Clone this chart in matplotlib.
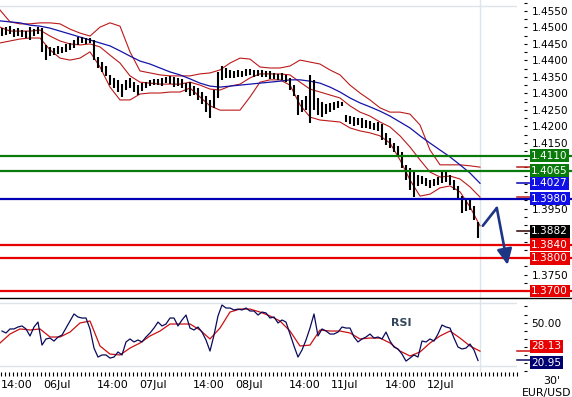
import numpy as np
import matplotlib
matplotlib.use('Agg')
import matplotlib.pyplot as plt
from matplotlib.lines import Line2D
from matplotlib.ticker import MultipleLocator, FixedLocator, NullFormatter, FormatStrFormatter, FuncFormatter

# hourly EUR/USD bars (time in hours from 05Jul 09:45)
bar_hi = [
    1.4498, 1.4501, 1.4504, 1.4495, 1.4498, 1.4492, 1.4489, 1.4501, 1.4495, 1.4501,
    1.4498, 1.4447, 1.4441, 1.4438, 1.4444, 1.4441, 1.4450, 1.4453, 1.4462, 1.4471,
    1.4471, 1.4468, 1.4468, 1.4462, 1.4410, 1.4395, 1.4383, 1.4356, 1.4347, 1.4341,
    1.4328, 1.4341, 1.4347, 1.4334, 1.4325, 1.4331, 1.4334, 1.4341, 1.4344, 1.4344,
    1.4347, 1.4350, 1.4353, 1.4350, 1.4347, 1.4344, 1.4331, 1.4334, 1.4322, 1.4316,
    1.4304, 1.4292, 1.4280, 1.4310, 1.4365, 1.4383, 1.4377, 1.4371, 1.4368, 1.4371,
    1.4368, 1.4374, 1.4374, 1.4371, 1.4371, 1.4371, 1.4368, 1.4368, 1.4362, 1.4359,
    1.4362, 1.4356, 1.4347, 1.4325, 1.4295, 1.4280, 1.4292, 1.4356, 1.4341, 1.4286,
    1.4274, 1.4268, 1.4271, 1.4274, 1.4277, 1.4274, 1.4234, 1.4231, 1.4228, 1.4225,
    1.4225, 1.4219, 1.4216, 1.4210, 1.4213, 1.4207, 1.4180, 1.4164, 1.4149, 1.4140,
    1.4122, 1.4083, 1.4073, 1.4067, 1.4052, 1.4049, 1.4043, 1.4037, 1.4040, 1.4046,
    1.4061, 1.4061, 1.4052, 1.4037, 1.4019, 1.3988, 1.3979, 1.3982, 1.3958, 1.3910]
bar_lo = [
    1.4474, 1.4477, 1.4480, 1.4471, 1.4474, 1.4471, 1.4468, 1.4462, 1.4474, 1.4480,
    1.4426, 1.4401, 1.4413, 1.4416, 1.4419, 1.4422, 1.4426, 1.4432, 1.4438, 1.4447,
    1.4453, 1.4450, 1.4453, 1.4401, 1.4377, 1.4365, 1.4353, 1.4325, 1.4316, 1.4304,
    1.4289, 1.4310, 1.4316, 1.4304, 1.4295, 1.4307, 1.4316, 1.4322, 1.4325, 1.4325,
    1.4322, 1.4331, 1.4328, 1.4319, 1.4322, 1.4316, 1.4304, 1.4292, 1.4295, 1.4280,
    1.4268, 1.4243, 1.4225, 1.4256, 1.4286, 1.4341, 1.4347, 1.4347, 1.4347, 1.4350,
    1.4350, 1.4353, 1.4356, 1.4350, 1.4353, 1.4350, 1.4350, 1.4344, 1.4344, 1.4341,
    1.4341, 1.4334, 1.4310, 1.4292, 1.4234, 1.4243, 1.4249, 1.4210, 1.4249, 1.4234,
    1.4228, 1.4237, 1.4243, 1.4249, 1.4256, 1.4262, 1.4213, 1.4207, 1.4201, 1.4204,
    1.4195, 1.4195, 1.4192, 1.4189, 1.4186, 1.4158, 1.4143, 1.4134, 1.4122, 1.4107,
    1.4073, 1.4037, 1.4007, 1.3985, 1.4019, 1.4025, 1.4019, 1.4013, 1.4019, 1.4022,
    1.4028, 1.4031, 1.4022, 1.4007, 1.3982, 1.3937, 1.3943, 1.3946, 1.3916, 1.3861]
last_close = 1.3882

# bollinger bands + moving average, read every 2.5 h
bb_upper = [
    1.4553, 1.4517, 1.4511, 1.4511, 1.4514, 1.4514, 1.4511, 1.4495, 1.4483, 1.4474,
    1.4501, 1.4514, 1.4504, 1.4426, 1.4368, 1.4362, 1.4356, 1.4353, 1.4353, 1.4353,
    1.4359, 1.4362, 1.4371, 1.4392, 1.4407, 1.4404, 1.4380, 1.4377, 1.4377, 1.4383,
    1.4401, 1.4395, 1.4389, 1.4371, 1.4356, 1.4325, 1.4301, 1.4280, 1.4256, 1.4243,
    1.4243, 1.4237, 1.4204, 1.4128, 1.4083, 1.4083, 1.4083, 1.4080, 1.4076]
bb_mid = [
    1.4501, 1.4489, 1.4489, 1.4489, 1.4492, 1.4474, 1.4459, 1.4450, 1.4447, 1.4450,
    1.4441, 1.4416, 1.4392, 1.4353, 1.4334, 1.4331, 1.4328, 1.4328, 1.4328, 1.4334,
    1.4325, 1.4313, 1.4310, 1.4322, 1.4328, 1.4347, 1.4359, 1.4359, 1.4359, 1.4356,
    1.4334, 1.4313, 1.4304, 1.4295, 1.4286, 1.4262, 1.4243, 1.4231, 1.4213, 1.4198,
    1.4171, 1.4137, 1.4098, 1.4061, 1.4046, 1.4049, 1.4040, 1.4016, 1.3985]
bb_lower = [
    1.4453, 1.4459, 1.4465, 1.4468, 1.4468, 1.4432, 1.4407, 1.4401, 1.4407, 1.4426,
    1.4380, 1.4319, 1.4280, 1.4280, 1.4298, 1.4301, 1.4301, 1.4304, 1.4304, 1.4316,
    1.4289, 1.4262, 1.4249, 1.4249, 1.4249, 1.4289, 1.4334, 1.4341, 1.4341, 1.4325,
    1.4265, 1.4228, 1.4219, 1.4216, 1.4213, 1.4195, 1.4186, 1.4180, 1.4171, 1.4149,
    1.4098, 1.4037, 1.3988, 1.3994, 1.4013, 1.4019, 1.4001, 1.3955, 1.3898]
ma_line = [
    1.4520, 1.4517, 1.4514, 1.4507, 1.4504, 1.4498, 1.4489, 1.4480, 1.4471, 1.4462,
    1.4453, 1.4444, 1.4429, 1.4413, 1.4398, 1.4389, 1.4377, 1.4365, 1.4356, 1.4344,
    1.4331, 1.4322, 1.4319, 1.4322, 1.4325, 1.4328, 1.4331, 1.4334, 1.4337, 1.4341,
    1.4341, 1.4337, 1.4331, 1.4319, 1.4304, 1.4286, 1.4271, 1.4259, 1.4246, 1.4231,
    1.4213, 1.4195, 1.4171, 1.4149, 1.4128, 1.4107, 1.4083, 1.4058, 1.4027]

# RSI per hourly bar, RSI signal every 2.5 h
rsi = [
    43.6, 42.1, 45.2, 45.2, 46.7, 47.5, 45.2, 39.8, 46.7, 50.5,
    32.8, 37.5, 38.2, 35.9, 39.0, 40.5, 45.9, 51.3, 56.7, 54.4,
    53.6, 53.6, 45.2, 30.5, 23.6, 25.2, 25.2, 22.8, 23.6, 27.5,
    25.2, 35.2, 37.5, 35.2, 36.7, 35.2, 39.0, 42.1, 45.9, 50.5,
    47.5, 49.0, 53.6, 53.6, 47.5, 52.1, 55.9, 45.9, 44.4, 46.7,
    42.8, 36.7, 28.2, 40.5, 55.2, 63.6, 61.3, 61.3, 59.8, 60.5,
    59.8, 61.3, 59.0, 59.0, 55.9, 58.2, 57.5, 53.6, 54.4, 49.8,
    52.1, 50.5, 41.3, 32.1, 23.6, 29.0, 36.7, 45.9, 56.7, 39.8,
    45.2, 43.6, 41.3, 41.3, 42.8, 46.7, 45.9, 45.9, 39.0, 35.2,
    37.5, 39.0, 41.3, 38.2, 39.0, 37.5, 42.8, 35.9, 31.3, 29.8,
    25.9, 20.5, 22.8, 25.2, 23.6, 35.9, 35.2, 37.5, 35.9, 41.3,
    48.2, 46.7, 45.9, 38.2, 31.3, 29.8, 30.5, 33.6, 29.0, 20.95]
rsi_ma = [
    34.4, 41.3, 45.2, 44.4, 45.2, 39.0, 39.0, 42.8, 49.8, 51.3,
    32.1, 25.9, 25.2, 30.5, 34.4, 39.8, 43.6, 49.0, 49.0, 49.0,
    44.4, 37.5, 45.9, 58.2, 60.5, 60.5, 58.2, 55.2, 51.3, 43.6,
    32.1, 32.8, 44.4, 43.6, 43.6, 42.1, 37.5, 38.2, 38.2, 34.4,
    28.2, 24.4, 27.5, 34.4, 39.8, 43.6, 38.2, 32.1, 28.13]

green_levels = [1.4110, 1.4065]
blue_level = 1.3980
red_levels = [1.3840, 1.3800, 1.3700]

# forecast arrow (hours, price)
arrow_t = [120.7, 124.2, 126.9]
arrow_p = [1.3898, 1.3952, 1.3779]

time_ticks = [4.25, 14.25, 28.25, 38.25, 52.25, 62.25, 76.25, 86.25, 100.25, 110.25]
time_labels = ['14:00', '06Jul', '14:00', '07Jul', '14:00', '08Jul', '14:00', '11Jul', '14:00', '12Jul']

GREEN = '#0a7a0a'
BLUE = '#0000b4'
RED = '#e80000'
BAND = '#bb1a1a'
NAVY = '#0a0a5c'
GRID = '#dde4ec'

W, H = 572, 397
fig = plt.figure(figsize=(W / 100, H / 100), dpi=100)
fig.patch.set_facecolor('white')
ax = fig.add_axes([0, 1 - 298 / H, 517 / W, 298 / H])
ax2 = fig.add_axes([0, 1 - 372 / H, 517 / W, 74 / H], sharex=ax)

t_bar = np.arange(len(bar_hi)) + 0.5
t_band = np.arange(len(bb_upper)) * 2.5
t_end = len(bar_hi)

ax.set_xlim(0, 129.25)
ax.set_ylim(1.36787, 1.45834)

ax.axhline(1.4565, color=GRID, lw=1, zorder=0)
ax.axvline(t_end, color=GRID, lw=1, zorder=0)

ax.vlines(t_bar, bar_lo, bar_hi, color='black', lw=1.5, zorder=3)
ax.plot(t_band, bb_upper, color=BAND, lw=0.8, zorder=2)
ax.plot(t_band, bb_mid, color=BAND, lw=0.8, zorder=2)
ax.plot(t_band, bb_lower, color=BAND, lw=0.8, zorder=2)
ax.plot(t_band, ma_line, color='#1414a8', lw=0.9, zorder=2)

xr = W / 517
for lv in green_levels:
    ax.axhline(lv, xmax=xr, color=GREEN, lw=1.6, clip_on=False, zorder=4)
ax.axhline(blue_level, xmax=xr, color=BLUE, lw=1.6, clip_on=False, zorder=4)
for lv in red_levels:
    ax.axhline(lv, xmax=xr, color=RED, lw=1.6, clip_on=False, zorder=4)

# forecast arrow
ax.plot(arrow_t[:2], arrow_p[:2], color='#1c3585', lw=1.9, solid_capstyle='round', zorder=6)
ax.annotate('', xy=(arrow_t[2], arrow_p[2]), xytext=(arrow_t[1], arrow_p[1]),
            arrowprops=dict(arrowstyle='-|>,head_length=0.95,head_width=0.45', mutation_scale=10,
                            color='#1c3585', lw=1.9, shrinkA=0, shrinkB=0), zorder=6)


def marker(axis, val, col):
    axis.plot([1.0, 1.026], [val, val], transform=axis.get_yaxis_transform(),
              color=col, lw=1.1, clip_on=False, zorder=5)


def tag(axis, val, txt, col, dy=0):
    axis.annotate(txt, xy=(1, val), xycoords=('axes fraction', 'data'),
                  xytext=(10.2, dy), textcoords='offset points',
                  ha='left', va='center', color='white', fontsize=7.6,
                  bbox=dict(boxstyle='square,pad=0.14', fc=col, ec='none'),
                  annotation_clip=False, zorder=10)


marker(ax, bb_upper[-1], BAND)
marker(ax, bb_mid[-1], BAND)
marker(ax, ma_line[-1], BLUE)
marker(ax, last_close, '#300000')

for lv in green_levels:
    tag(ax, lv, '%.4f' % lv, GREEN)
tag(ax, blue_level, '%.4f' % blue_level, '#1010e6')
tag(ax, ma_line[-1], '%.4f' % ma_line[-1], '#1010e6')
tag(ax, last_close, '%.4f' % last_close, 'black')
for lv in red_levels:
    tag(ax, lv, '%.4f' % lv, RED)

# price labels that sit under a level box are not printed
boxed = green_levels + [blue_level, ma_line[-1], last_close] + red_levels


def price_fmt(v, pos):
    if min(abs(v - b) for b in boxed) < 0.0021:
        return ''
    return '%.4f' % v


for s in ax.spines.values():
    s.set_visible(False)
ax.spines['right'].set_position(('outward', 5))
ax.yaxis.tick_right()
ax.yaxis.set_major_locator(MultipleLocator(0.005))
ax.yaxis.set_minor_locator(MultipleLocator(0.0025))
ax.yaxis.set_major_formatter(FuncFormatter(price_fmt))
ax.tick_params(axis='y', which='both', direction='out', length=2.4, width=0.8,
               pad=3, labelsize=7.6, colors='black')
ax.tick_params(axis='x', which='both', bottom=False, labelbottom=False)

# RSI panel
ax2.set_ylim(12.1, 69.0)
ax2.axhline(65.2, color=GRID, lw=1, zorder=0)
ax2.axhline(16.7, color=GRID, lw=1, zorder=0)
ax2.axvline(t_end, color=GRID, lw=1, zorder=0)
ax2.plot(t_bar, rsi, color=NAVY, lw=0.9, zorder=3)
ax2.plot(t_band, rsi_ma, color='#cc1010', lw=0.9, zorder=2)
ax2.text(100.3, 50, 'RSI', ha='center', va='center', fontsize=8,
         fontweight='bold', color='#34465a')

marker(ax2, rsi_ma[-1], '#cc1010')
marker(ax2, rsi[-1], NAVY)
tag(ax2, rsi_ma[-1], '%.2f' % rsi_ma[-1], RED, dy=3.5)
tag(ax2, rsi[-1], '%.2f' % rsi[-1], '#000070', dy=-1.5)

for s in ax2.spines.values():
    s.set_visible(False)
ax2.spines['right'].set_position(('outward', 5))
ax2.yaxis.tick_right()
ax2.yaxis.set_major_locator(FixedLocator([50]))
ax2.yaxis.set_minor_locator(FixedLocator([62.5, 56.25, 43.75, 37.5, 31.25, 25, 18.75, 12.5]))
ax2.yaxis.set_major_formatter(FormatStrFormatter('%.2f'))
ax2.tick_params(axis='y', which='both', direction='out', length=2.4, width=0.8,
                pad=3, labelsize=7.6)

ax2.xaxis.set_major_locator(FixedLocator(time_ticks))
ax2.xaxis.set_minor_locator(MultipleLocator(1.0, offset=0.25))
ax2.set_xticklabels(time_labels)
ax2.xaxis.set_minor_formatter(NullFormatter())
ax2.tick_params(axis='x', which='both', direction='out', length=3.2, width=0.8,
                pad=2.5, labelsize=8)

# separator between panels
y_sep = ax.get_position().y0
fig.add_artist(Line2D([0, 1], [y_sep, y_sep], transform=fig.transFigure, color='black', lw=1))

fig.text(552 / W, 1 - 381.5 / H, "30'", ha='center', va='center', fontsize=8)
fig.text(571 / W, 1 - 393 / H, 'EUR/USD', ha='right', va='center', fontsize=7.8)

fig.savefig('out.png', dpi=100)
